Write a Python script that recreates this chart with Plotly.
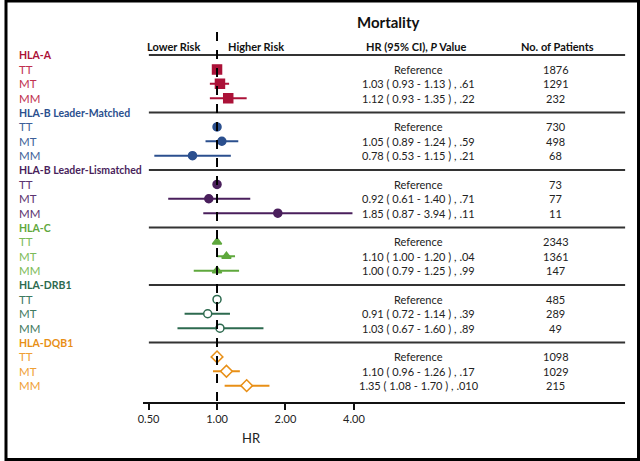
import math
import plotly.graph_objects as go

# data
groups = ["HLA-A", "HLA-B Leader-Matched", "HLA-B Leader-Lismatched", "HLA-C", "HLA-DRB1", "HLA-DQB1"]
genotypes = ["TT", "MT", "MM"]
hr = [[1.00, 1.03, 1.12], [1.00, 1.05, 0.78], [1.00, 0.92, 1.85],
      [1.00, 1.10, 1.00], [1.00, 0.91, 1.03], [1.00, 1.10, 1.35]]
ci_low = [[None, 0.93, 0.93], [None, 0.89, 0.53], [None, 0.61, 0.87],
          [None, 1.00, 0.79], [None, 0.72, 0.67], [None, 0.96, 1.08]]
ci_high = [[None, 1.13, 1.35], [None, 1.24, 1.15], [None, 1.40, 3.94],
           [None, 1.20, 1.25], [None, 1.14, 1.60], [None, 1.26, 1.70]]
p_vals = [[None, ".61", ".22"], [None, ".59", ".21"], [None, ".71", ".11"],
          [None, ".04", ".99"], [None, ".39", ".89"], [None, ".17", ".010"]]
patients = [[1876, 1291, 232], [730, 498, 68], [73, 77, 11],
            [2343, 1361, 147], [485, 289, 49], [1098, 1029, 215]]
tick_vals = [0.5, 1, 2, 4]
tick_text = ["0.50", "1.00", "2.00", "4.00"]

# styles
head_col = ["#ab1238", "#2b4f8e", "#4a1f5c", "#5fa83d", "#2d6a4f", "#e88f16"]
row_col = ["#c0304f", "#3d5f99", "#5c3370", "#7cbb58", "#3f7a5f", "#efa035"]
symbols = ["square", "circle", "circle", "triangle-up", "circle", "diamond"]
hollow = [False, False, False, False, True, True]
msize = [9, 8, 8, 8, 8, 9]

W, H = 640, 461
FONT = "Lato, 'Open Sans', sans-serif"
ROW0, DY = 55, 14.375          # pixel of first group row, row step
AXIS_Y = 401.7


def px(x):
    return x / W


def note(x, y, text, yref="y", xanchor="center", size=11, color="#222"):
    fig.add_annotation(x=x, y=y, xref="paper", yref=yref, text=text, showarrow=False,
                       xanchor=xanchor, yanchor="middle", font=dict(size=size, color=color))


fig = go.Figure()

for g, name in enumerate(groups):
    rows = [g * 4 + 1 + i for i in range(3)]
    xs = hr[g]
    plus = [0 if h is None else h - x for h, x in zip(ci_high[g], xs)]
    minus = [0 if l is None else x - l for l, x in zip(ci_low[g], xs)]
    fig.add_trace(go.Scatter(
        x=xs, y=rows, mode="markers",
        marker=dict(symbol=symbols[g], size=msize[g],
                    color="white" if hollow[g] else head_col[g],
                    line=dict(color=head_col[g], width=1.5)),
        error_x=dict(type="data", array=plus, arrayminus=minus, symmetric=False,
                     color=head_col[g], thickness=2, width=0),
        showlegend=False, cliponaxis=False,
    ))

    # left labels
    note(px(12), g * 4, "<b>%s</b>" % name, xanchor="left", size=10.5, color=head_col[g])
    for i, gt in enumerate(genotypes):
        r = rows[i]
        note(px(12), r, gt, xanchor="left", size=11.5, color=row_col[g])
        if ci_low[g][i] is None:
            txt = "Reference"
        else:
            txt = "%.2f ( %.2f - %.2f ) , %s" % (hr[g][i], ci_low[g][i], ci_high[g][i], p_vals[g][i])
        note(px(417), r, txt)
        note(px(555), r, str(patients[g][i]))

    # group separator line
    fig.add_shape(type="line", xref="paper", yref="y", x0=px(145), x1=px(625),
                  y0=g * 4, y1=g * 4, line=dict(color="#333", width=2))

# dashed reference line
fig.add_shape(type="line", xref="x", yref="y", x0=1, x1=1,
              y0=(32 - ROW0) / DY, y1=(AXIS_Y - ROW0) / DY,
              line=dict(color="black", width=2, dash="dash"))

# black frame
fig.add_shape(type="rect", xref="paper", yref="paper", x0=px(1), x1=px(638.5),
              y0=1 - 459.5 / H, y1=1 - 1 / H, fillcolor="rgba(0,0,0,0)",
              line=dict(color="black", width=3))

# headers
note(px(386), 1 - 22 / H, "<b>Mortality</b>", yref="paper", size=15, color="#111")
hdr_y = (46 - ROW0) / DY
note(px(199), hdr_y, "<b>Lower Risk</b>", xanchor="right", color="#111")
note(px(223), hdr_y, "<b>Higher Risk</b>", xanchor="left", color="#111")
note(px(414), hdr_y, "<b>HR (95% CI), <i>P</i> Value</b>", color="#111")
note(px(557), hdr_y, "<b>No. of Patients</b>", color="#111")
note(px(248), 1 - 438 / H, "HR", yref="paper", size=13)

# axis range so that 1.00 sits at x=213.7 px and one doubling = 69 px
l2 = math.log10(2)
xr = [((139 - 213.7) / 69) * l2, ((625 - 213.7) / 69) * l2]

fig.update_xaxes(type="log", range=xr, domain=[px(139), px(625)],
                 tickvals=tick_vals, ticktext=tick_text, ticks="outside", ticklen=6, tickwidth=2,
                 tickcolor="#111", showline=True, linecolor="#111", linewidth=2, showgrid=False,
                 zeroline=False, tickfont=dict(size=11, color="#222"))
fig.update_yaxes(range=[(AXIS_Y - ROW0) / DY, -ROW0 / DY], domain=[1 - AXIS_Y / H, 1],
                 visible=False, showgrid=False, zeroline=False)

fig.update_layout(width=W, height=H, margin=dict(l=0, r=0, t=0, b=0),
                  paper_bgcolor="white", plot_bgcolor="rgba(0,0,0,0)",
                  font=dict(family=FONT), showlegend=False)

fig.write_html("out.html", config={"displayModeBar": False},
               post_script="document.body.style.margin='0';")
